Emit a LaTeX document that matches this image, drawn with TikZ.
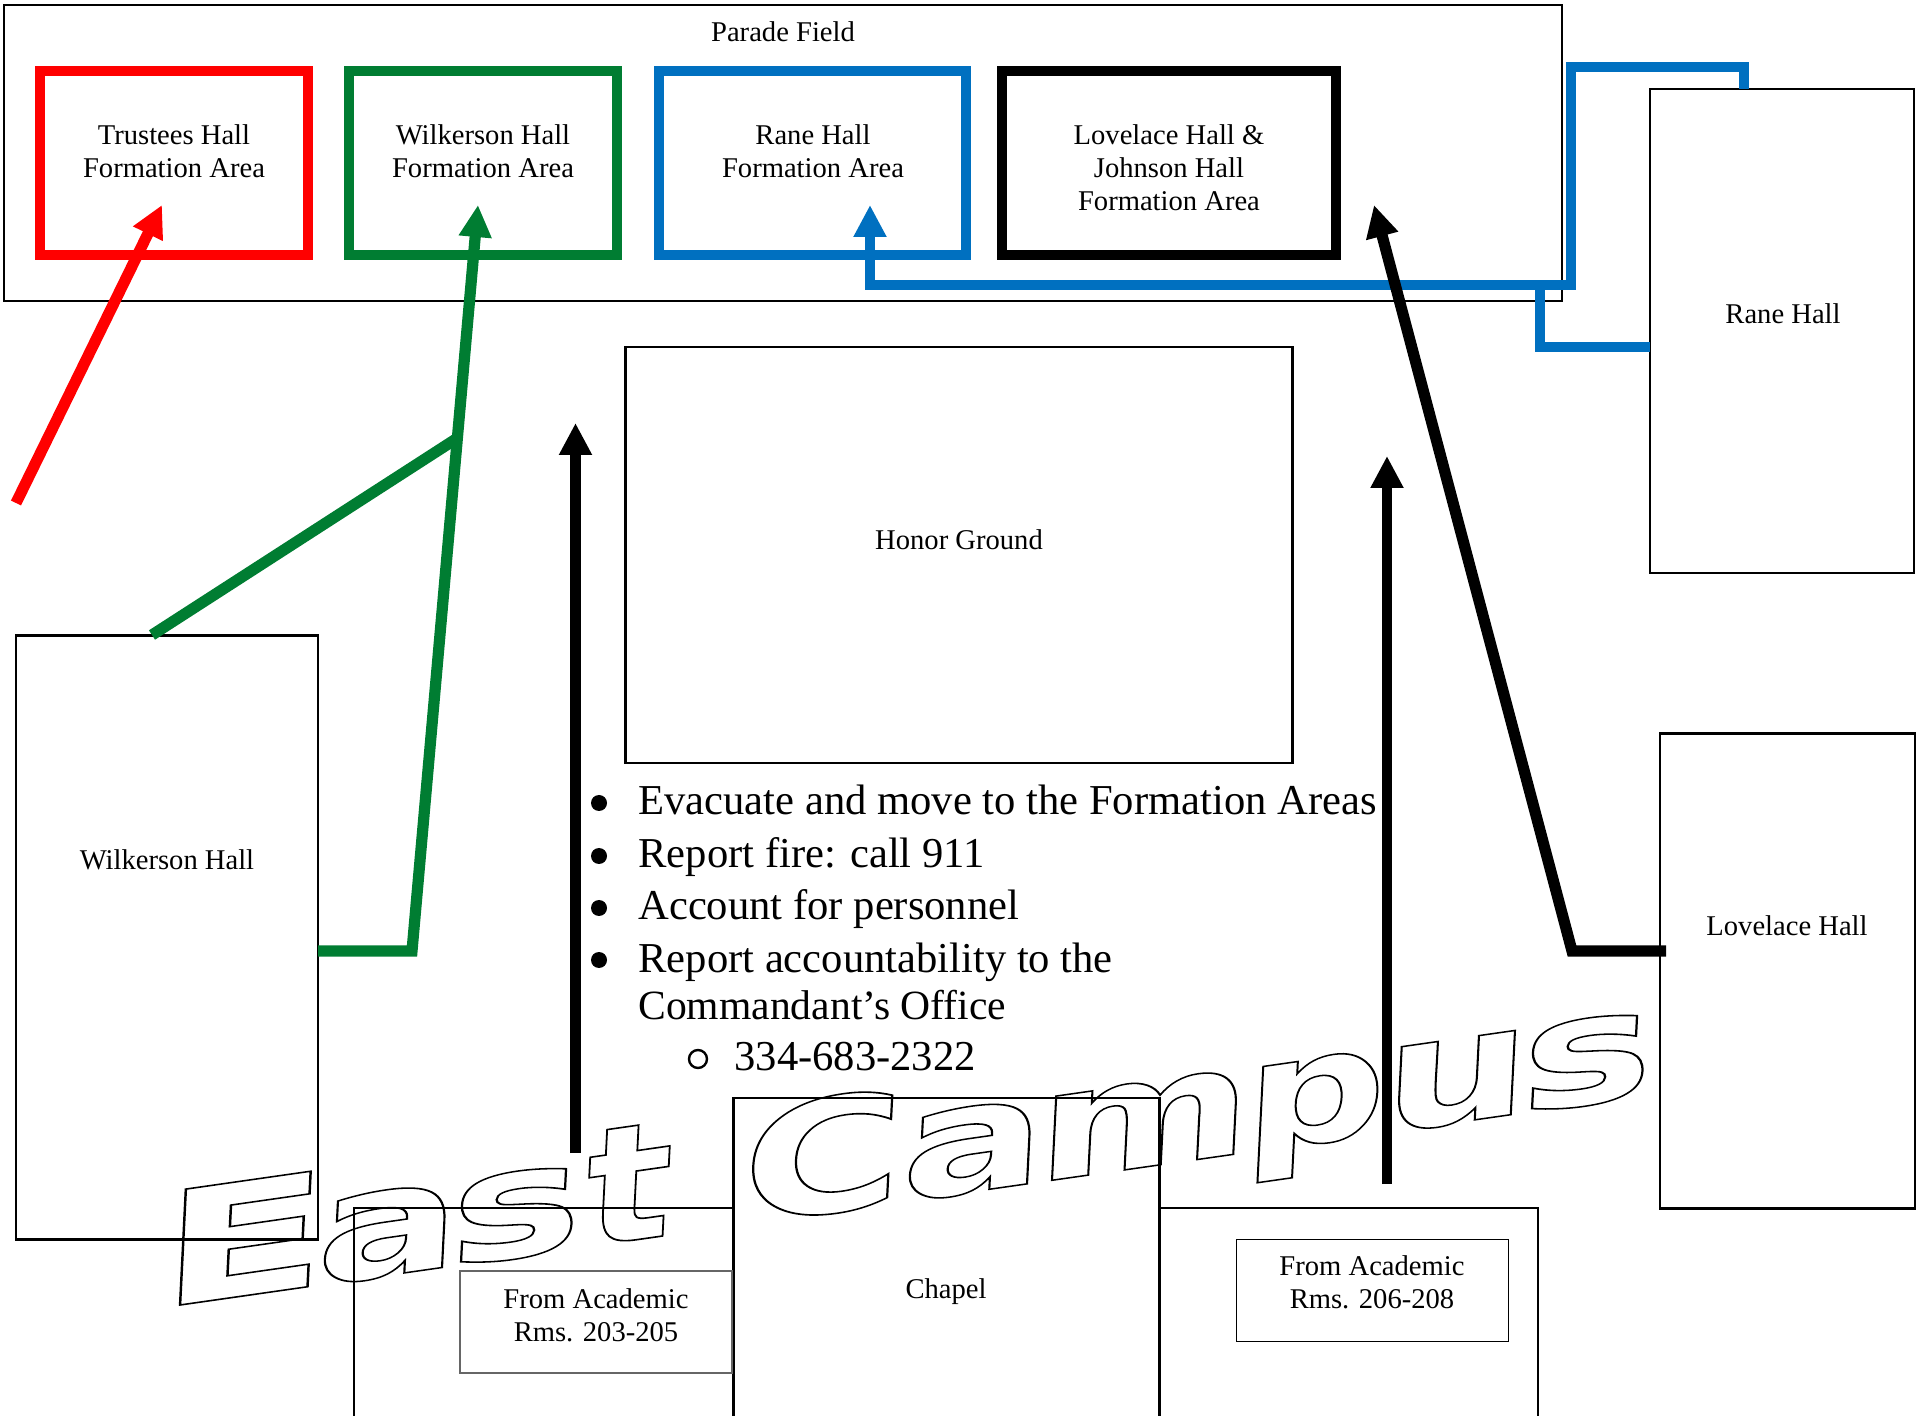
\documentclass[tikz,border=0pt]{standalone}
\usepackage{fontspec}
\setmainfont{Liberation Serif}
\newfontfamily\wordartfont{DejaVu Sans}[BoldFont=* Bold]
\usepackage{xcolor}
\usetikzlibrary{arrows.meta,calc,positioning}
\colorlet{firered}{red}
\definecolor{firegreen}{RGB}{0,125,50}
\definecolor{fireblue}{RGB}{0,112,192}
\tikzset{
  hallbox/.style={draw,line width=1.2pt,inner sep=0pt,outer sep=0pt,anchor=north west},
  areabox/.style={draw,line width=5.25pt,inner sep=0pt,outer sep=0pt,anchor=north west,minimum height=92pt},
  maplabel/.style={align=center,font=\fontsize{14.3}{16.5}\selectfont},
  routeline/.style={line width=5.6pt,-{Triangle[length=16pt,width=15.5pt]}},
  plainline/.style={line width=5.6pt},
  listtext/.style={anchor=base west,inner sep=0pt,font=\fontsize{21.3}{21.3}\selectfont},
}
% outlined letter of the banner: x, x scale, y scale, letter, name
\newcommand{\bannerletter}[5]{%
  \node[anchor=base west,inner sep=0pt,transform shape,cm={#2,0.143*#2,0.05*#3,#3,(#1,{1305-0.143*(#1-180)})}] (#5) at (0,0)
    {\special{pdf:code q 1 Tr 1 w}\wordartfont\bfseries\fontsize{100}{100}\selectfont #4\special{pdf:code Q}};}
\begin{document}
\begin{tikzpicture}[x=0.5pt,y=-0.5pt]
\useasboundingbox (0,0) rectangle (1923,1416);
% parade field and the formation areas
\node[hallbox,minimum width=779pt,minimum height=148pt] (parade) at (4,5) {};
\node[maplabel] (paradelabel) at (783,32) {Parade Field};
\node[areabox,firered,minimum width=134pt] (trustees) at (40,71) {};
\node[areabox,firegreen,minimum width=134pt] (wilkarea) at (349,71) {};
\node[areabox,fireblue,minimum width=153.5pt] (ranearea) at (659,71) {};
\node[areabox,minimum width=167pt] (lovearea) at (1002,71) {};
\node[maplabel] (trusteeslabel) at (174,151) {Trustees Hall\\Formation Area};
\node[maplabel] (wilkarealabel) at (483,151) {Wilkerson Hall\\Formation Area};
\node[maplabel] (ranearealabel) at (813,151) {Rane Hall\\Formation Area};
\node[maplabel] (lovearealabel) at (1169,168) {Lovelace Hall \&\\Johnson Hall\\Formation Area};
% halls
\node[hallbox,minimum width=333.5pt,minimum height=208pt] (honor) at (625.5,347) {};
\node[maplabel] (honorlabel) at (959,540) {Honor Ground};
\node[hallbox,minimum width=132pt,minimum height=242pt] (rane) at (1650,89) {};
\node[maplabel] (ranelabel) at (1783,314) {Rane Hall};
\node[hallbox,minimum width=151pt,minimum height=302pt] (wilkerson) at (16,635.5) {};
\node[maplabel] (wilkersonlabel) at (167,860) {Wilkerson Hall};
\node[hallbox,minimum width=127.5pt,minimum height=237.5pt] (lovelace) at (1660,733.5) {};
\node[maplabel] (lovelacelabel) at (1787,926) {Lovelace Hall};
\node[hallbox,minimum width=189.5pt,minimum height=120pt] (acadleft) at (354,1208) {};
\node[hallbox,minimum width=213pt,minimum height=165pt] (chapel) at (733.5,1098) {};
\node[maplabel] (chapellabel) at (946,1292) {Chapel};
\node[hallbox,minimum width=189.5pt,minimum height=120pt] (acadright) at (1159,1208) {};
\node[hallbox,draw=black!60,minimum width=136pt,minimum height=51pt,line width=.8pt] (roomsleft) at (460,1271) {};
\node[maplabel] (roomsleftlabel) at (596,1315) {From Academic\\Rms. 203-205};
\node[hallbox,minimum width=136pt,minimum height=51pt,line width=.5pt] (roomsright) at (1236,1239) {};
\node[maplabel] (roomsrightlabel) at (1372,1282) {From Academic\\Rms. 206-208};
% routes
\coordinate (redstart) at (16,503);
\coordinate (redtip) at (162,205);
\draw[routeline,firered] (redstart)--(redtip);
\coordinate (greenknee) at (412,951);
\coordinate (greentip) at (478,205);
\coordinate (greenjoin) at (456,439);
\coordinate (greenroof) at (152,635);
\draw[routeline,firegreen] (wilkerson.east |- greenknee)--(greenknee)--(greentip);
\draw[plainline,firegreen] (greenroof)--(greenjoin);
\coordinate (bluejoin) at (1540,285);
\coordinate (bluetip) at (870,205);
\draw[routeline,line width=5pt,fireblue] (rane.west |- 0,347)-|(bluejoin)--(870,285)--(bluetip);
\draw[plainline,line width=5pt,fireblue] (bluejoin)--(1571,285)--(1571,67)--(1744,67)--(1744,89);
\coordinate (blackknee) at (1572,951);
\coordinate (blacktip) at (1374,205);
\draw[routeline,black] (1666,951)--(blackknee)--(blacktip);
\coordinate (upleftstart) at (575.5,1153);
\coordinate (upleftend) at (575.5,423);
\coordinate (uprightstart) at (1387,1184);
\coordinate (uprightend) at (1387,456);
\draw[routeline,line width=5.2pt,black] (upleftstart)--(upleftend);
\draw[routeline,line width=5.2pt,black] (uprightstart)--(uprightend);
% orders
\foreach \by/\name/\txt in {815/itemA/Evacuate and move to the Formation Areas,868/itemB/Report fire: call 911,920/itemC/Account for personnel,972/itemD/Report accountability to the}{
  \node[listtext] (\name) at (638,\by) {\txt};
  \fill (599,{\by-12}) circle (8);
}
\node[listtext,font=\fontsize{20.8}{20.8}\selectfont] (itemE) at (638,1019) {Commandant’s Office};
\draw[line width=1.2pt] (698,1059) circle (9);
\node[listtext] (itemF) at (734,1070) {334-683-2322};
% banner
\bannerletter{157}{1.23}{.795}{E}{letE}
\bannerletter{314}{1.07}{.77}{a}{letA}
\bannerletter{447}{1.12}{.77}{s}{letS}
\bannerletter{583}{.9}{.82}{t}{letT}
\bannerletter{739}{1.1}{.79}{C}{letC}
\bannerletter{899}{1.07}{.77}{a}{letAb}
\bannerletter{1034.5}{1.03}{.77}{m}{letM}
\bannerletter{1242}{.99}{.77}{p}{letP}
\bannerletter{1381}{1.03}{.77}{u}{letU}
\bannerletter{1518}{1.12}{.77}{s}{letSb}
\end{tikzpicture}
\end{document}
